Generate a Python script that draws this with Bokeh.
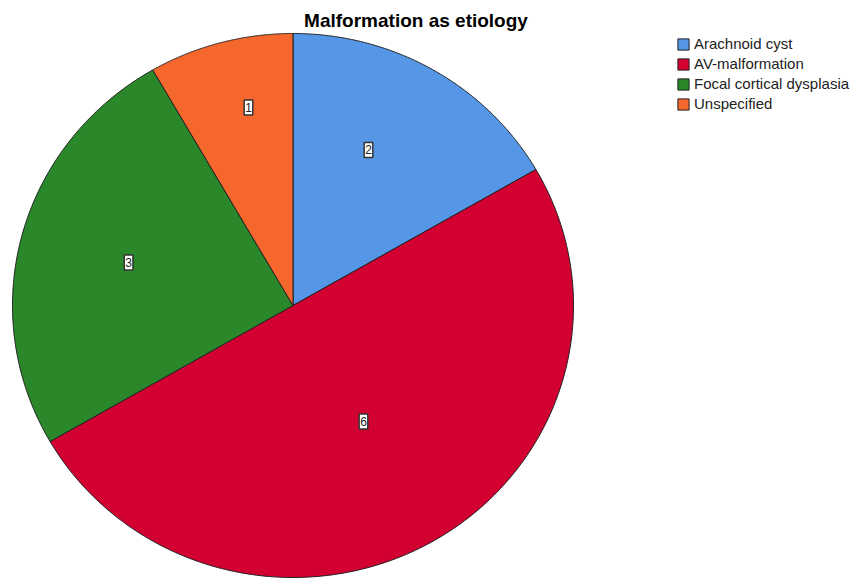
import numpy as np
from bokeh.plotting import figure
from bokeh.models import ColumnDataSource, Range1d, Label, Legend, LegendItem
from bokeh.core.properties import value
from bokeh.embed import file_html
from bokeh.resources import INLINE

title = "Malformation as etiology"
categories = ["Arachnoid cyst", "AV-malformation", "Focal cortical dysplasia", "Unspecified"]
counts = [2, 6, 3, 1]
colors = ["#5596e6", "#d30032", "#2a872a", "#f5672d"]
# label placement (style): radius fraction and angular shift in degrees
label_r = [0.632, 0.495, 0.607, 0.745]
label_shift = [4.8, 0.5, -0.1, -2.7]

W, H = 864, 581
cx, cy = 292.5, 305.0
rx, ry = 280.5, 272.0

p = figure(width=W, height=H, output_backend="svg", toolbar_location=None,
           min_border=0, x_axis_type=None, y_axis_type=None,
           x_range=Range1d(-cx / rx, (W - cx) / rx),
           y_range=Range1d(-(H - cy) / ry, cy / ry))
p.grid.visible = False
p.outline_line_color = None
p.background_fill_color = "white"
p.border_fill_color = "white"

total = float(sum(counts))
start = np.pi / 2
xs, ys, lx, ly = [], [], [], []
for c, lr, sh in zip(counts, label_r, label_shift):
    end = start - 2 * np.pi * c / total
    t = np.linspace(start, end, 200)
    xs.append(np.concatenate([[0.0], np.cos(t), [0.0]]))
    ys.append(np.concatenate([[0.0], np.sin(t), [0.0]]))
    mid = (start + end) / 2 + np.radians(sh)
    lx.append(lr * np.cos(mid))
    ly.append(lr * np.sin(mid))
    start = end

src = ColumnDataSource(dict(xs=xs, ys=ys, color=colors, cat=categories))
r = p.patches("xs", "ys", source=src, fill_color="color", line_color="#222222", line_width=1)

lsrc = ColumnDataSource(dict(x=lx, y=ly, t=[str(c) for c in counts]))
p.text("x", "y", text="t", source=lsrc, text_align="center", text_baseline="middle",
       text_font=value("Liberation Sans"), text_font_size="12px", text_color="#222222",
       background_fill_color="white", border_line_color="#333333", border_line_width=1.5,
       padding=dict(left=1, right=1, top=3, bottom=3))

p.add_layout(Label(x=415.5, y=H - 20, x_units="screen", y_units="screen", text=title,
                   text_align="center", text_baseline="middle",
                   text_font="Liberation Sans", text_font_size="19px",
                   text_font_style="bold", text_color="black"))

items = [LegendItem(label=cat, renderers=[r], index=i) for i, cat in enumerate(categories)]
leg = Legend(items=items, location=(676, H - 37 - 75), orientation="vertical",
             glyph_width=14, glyph_height=14, label_height=14, spacing=3,
             label_standoff=4, padding=0, margin=0, border_line_color=None,
             background_fill_alpha=0, label_text_font="Liberation Sans",
             label_text_font_size="15px", label_text_color="#222222")
p.add_layout(leg, "center")

open("out.html", "w").write(file_html(p, INLINE))
